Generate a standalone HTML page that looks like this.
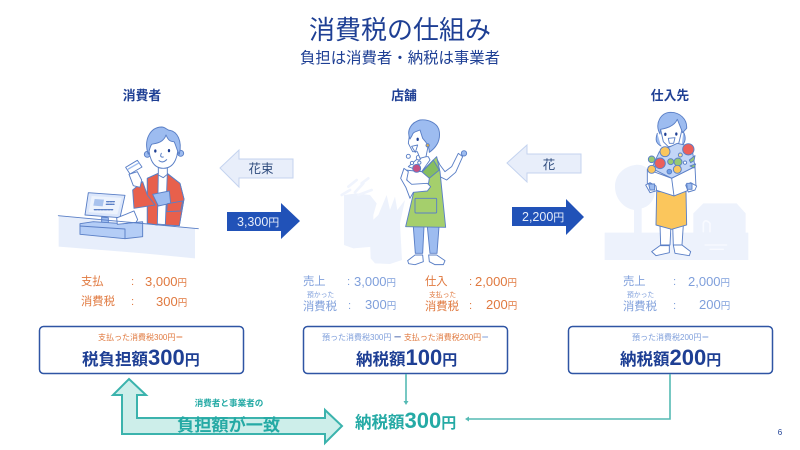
<!DOCTYPE html>
<html lang="ja"><head><meta charset="utf-8"><title>消費税の仕組み</title>
<style>
html,body{margin:0;padding:0;background:#fff;width:800px;height:450px;overflow:hidden}
svg{display:block}
text{font-family:"Liberation Sans","Noto Sans CJK JP",sans-serif}
.ill{filter:blur(.3px)}
.ill *{stroke-linejoin:round;stroke-linecap:round}
.s{stroke:#5a7fc6;stroke-width:2.8}
.w{fill:#fff}.h{fill:#9dbcf0}.r{fill:#e8604c}.g{fill:#a5cf6c}.y{fill:#fbc65c}
.bg{fill:#edf2fc;stroke:none}
</style></head><body>
<svg width="800" height="450" viewBox="0 0 800 450" xmlns="http://www.w3.org/2000/svg">
<rect width="800" height="450" fill="#fff"/>

<text x="400" y="39" text-anchor="middle" font-size="26" fill="#1e3f94">消費税の仕組み</text>
<text x="400" y="63" text-anchor="middle" font-size="15.4" fill="#1e3f94">負担は消費者・納税は事業者</text>
<text x="142" y="100" text-anchor="middle" font-size="12.8" font-weight="bold" fill="#1e3f94">消費者</text>
<text x="404" y="100" text-anchor="middle" font-size="12.8" font-weight="bold" fill="#1e3f94">店舗</text>
<text x="670" y="100" text-anchor="middle" font-size="12.8" font-weight="bold" fill="#1e3f94">仕入先</text>

<!-- consumer -->
<g class="ill" transform="translate(60,125) scale(.3333)">
<polygon class="bg" style="fill:#e7eefb" points="-4,272 405,310 405,400 250,385 -4,365"/>
<path class="s w" d="M262,160L295,145H322L360,175L372,222L358,302L262,295Z"/>
<path class="s r" d="M262,160L295,145L292,300L262,295ZM322,146L360,175L372,222L358,302L316,300Z"/>
<path class="s r" d="M248,170L218,195L222,250L285,240L262,210Z"/>
<path class="s w" d="M207,148L232,140L245,165L240,187L220,182Z"/>
<path class="s w" d="M197,127L232,106L246,126L210,147Z"/>
<path d="M205,132L238,113" stroke="#9dbcf0" stroke-width="4"/>
<path class="s h" d="M278,208L328,198L332,235L295,243Z"/>
<path class="s r" d="M322,236L368,228L362,258L320,260Z"/>
<path class="s w" d="M295,120V150L310,158L322,148V120Z"/>
<circle class="s h" cx="262" cy="88" r="9"/><circle class="s h" cx="362" cy="85" r="9"/>
<path class="s w" d="M268,50C263,90 275,130 310,130C345,130 358,90 352,50L320,30Z"/>
<path class="s h" d="M265,88C250,45 270,7 305,6C318,6 322,18 330,16C350,20 368,45 358,88C350,75 348,60 342,50C325,50 322,38 318,30C310,55 285,55 275,58C270,65 268,75 265,88Z"/>
<ellipse cx="286" cy="78" rx="3.5" ry="5" fill="#1e3f94"/><ellipse cx="327" cy="77" rx="3.5" ry="5" fill="#1e3f94"/>
<path d="M297,107Q308,116 320,104M304,85Q298,98 310,96" fill="none" stroke="#5a7fc6" stroke-width="3"/>
<path class="s" fill="#dce7fb" d="M85,203L195,211L180,278L75,270Z"/>
<path fill="#edf3fd" d="M95,213L185,219L172,268L86,261Z"/>
<path fill="#a9c3ee" d="M104,222L132,224L128,244L100,242Z"/>
<path d="M140,230H163M139,238H162M103,254H158" stroke="#5a7fc6" stroke-width="4" stroke-dasharray="7 3"/>
<path class="s h" d="M125,276L145,278V296H125Z"/>
<path class="s" fill="#b4cdf6" d="M60,296L100,290L190,296L248,290V335L195,341L60,328Z"/>
<path class="s" fill="none" d="M60,303L195,312V341"/>
<path class="s w" d="M170,279L222,258L233,284L228,292L172,298Z"/>
<path d="M-5,272L415,311" stroke="#5a7fc6" stroke-width="2.8" fill="none"/>
</g>

<!-- store -->
<g class="ill" transform="translate(340,115) scale(.3333)">
<path class="bg" d="M12,240L50,235L90,240L110,265L100,300V395L40,400L12,390Z"/>
<path d="M5,240L30,225M25,215L50,195M45,232L70,205M65,205L85,190M55,240L95,225" stroke="#f0f4fd" stroke-width="8" fill="none"/>
<path class="bg" d="M88,325L115,300L140,240L150,285L165,245L172,285L195,255L180,325L186,435L150,447L105,445L92,430Z"/>
<path class="s h" d="M220,335H252L248,415H226Z"/>
<path class="s h" d="M262,335H297L291,415H270Z"/>
<path class="s w" d="M203,437L225,420H248L250,440L225,449L206,446Z"/>
<path class="s w" d="M266,420H290L315,437L310,449H285L268,440Z"/>
<path class="s w" d="M290,130L300,150L315,170L335,155L355,115L368,125L347,172L320,195L300,185Z"/>
<circle class="s h" cx="372" cy="115" r="8"/>
<path class="s g" d="M240,175L290,125L300,170L317,337L197,335L225,215Z"/>
<rect class="s g" x="225" y="250" width="65" height="44" rx="3"/>
<path class="s" fill="#86bd60" d="M240,178L280,135L298,165L265,192Z"/>
<path class="s w" d="M240,125L265,125L270,135L245,170L205,155Z"/>
<path class="s w" d="M195,165L245,170L268,190L262,228L205,215Z"/>
<path class="s w" d="M192,160L182,190L198,218L210,250L220,232L262,228L272,215L262,205L215,208L200,195L205,170Z"/>
<circle class="s" cx="230" cy="160" r="12" fill="#c55184"/>
<g class="s w"><circle cx="205" cy="124" r="6"/><circle cx="236" cy="128" r="7"/><circle cx="216" cy="144" r="5"/><circle cx="238" cy="143" r="5"/></g>
<path class="s w" d="M210,48L250,42L264,95L258,125L240,130L232,110L218,110L205,85Z"/>
<path class="s h" d="M210,72C198,45 215,22 240,15C265,12 295,25 298,50C302,80 285,100 268,112C268,100 265,92 258,82L248,70L240,45C230,50 218,50 216,62Z"/>
<circle class="s" cx="263" cy="91" r="5" fill="#dfb04a"/>
<ellipse cx="233" cy="73" rx="3.5" ry="5" fill="#1e3f94"/>
<path class="s w" d="M215,94L233,90L226,112Z"/>
</g>

<!-- supplier -->
<g class="ill" transform="translate(600,110) scale(.3333)">
<path class="bg" d="M105,165C140,160 160,190 165,225C170,265 150,290 125,295V370H102V300C70,295 45,265 45,230C45,195 70,170 105,165Z"/>
<path class="bg" d="M280,310L310,280H410L437,310V370H280Z"/>
<rect class="bg" x="14" y="368" width="431" height="82"/>
<path d="M310,365V340Q315,325 330,340V365" fill="none" stroke="#f8faff" stroke-width="5"/>
<path d="M315,405H380M330,418H370" stroke="#f8faff" stroke-width="4"/>
<path class="s w" d="M180,345H213L210,405H182Z"/>
<path class="s w" d="M218,345H250L246,405H220Z"/>
<path class="s w" d="M155,425L180,407H208V428L168,437Z"/>
<path class="s w" d="M220,405H246L272,425L268,437L225,430Z"/>
<path class="s y" d="M170,245H258L260,345L215,358L168,345Z"/>
<path class="s h" d="M172,70C165,90 168,100 183,108M250,65C258,80 258,95 245,108" fill="none"/>
<path class="s w" d="M180,50L190,95L205,110L235,105L247,55L232,25Z"/>
<path class="s h" d="M180,72C163,40 182,8 212,7C240,7 262,28 260,55L248,68L232,28C222,50 198,55 182,58Z"/>
<ellipse cx="196" cy="73" rx="3.5" ry="5" fill="#1e3f94"/><ellipse cx="229" cy="72" rx="3.5" ry="5" fill="#1e3f94"/>
<path class="s w" d="M205,85L225,83L221,100L208,100Z"/>
<path class="s" fill="#c3d6f7" d="M155,175L215,205L285,170L275,110L232,100L178,125Z"/>
<path class="s w" d="M142,178L215,205L285,170L288,232L222,258L142,232Z"/>
<path class="s" fill="none" d="M215,205L222,258"/>
<path class="s w" d="M137,225L150,218L168,228L170,242L150,248Z"/>
<path class="s w" d="M257,225L272,218L290,228L285,240L265,246Z"/>
<path class="s h" d="M146,222H164V240H150ZM260,220H276V238H262Z"/>
<g class="s">
<circle cx="265" cy="118" r="17" fill="#ec5f5a"/>
<circle class="y" cx="195" cy="125" r="15"/>
<circle cx="180" cy="160" r="16" fill="#ec5f5a"/>
<circle cx="155" cy="148" r="10" fill="#96c872"/>
<circle class="y" cx="155" cy="178" r="12"/>
<circle cx="212" cy="155" r="9" fill="#96c872"/>
<circle cx="234" cy="156" r="12" fill="#96c872"/>
<circle class="y" cx="232" cy="178" r="12"/>
<circle cx="241" cy="135" r="6" fill="#fbe08c"/>
<path style="fill:#96c872" d="M268,150L285,137L282,152L272,158Z"/>
<circle cx="208" cy="185" r="7" fill="#6d9de8"/>
<circle cx="255" cy="158" r="5" fill="#fff"/>
<path style="fill:#96c872" d="M270,168L287,162L282,174Z"/>
</g>
</g>

<!-- horizontal arrows -->
<polygon points="220,168 239,150 239,159 293,159 293,178 239,178 239,187" fill="#e8eefa" stroke="#c4d3ef"/>
<text x="261" y="173" text-anchor="middle" font-size="12.5" fill="#2d4a7c">花束</text>
<polygon points="227,212 281,212 281,203 300,221 281,239 281,231 227,231" fill="#2152b8"/>
<text x="237" y="226" font-size="12.5" fill="#e8eefa">3,300<tspan font-size="11">円</tspan></text>
<polygon points="507,163 527,145 527,154 581,154 581,173 527,173 527,182" fill="#e8eefa" stroke="#c4d3ef"/>
<text x="549" y="169" text-anchor="middle" font-size="12.5" fill="#2d4a7c">花</text>
<polygon points="512,207 566,207 566,199 584,217 566,235 566,226 512,226" fill="#2152b8"/>
<text x="522" y="221" font-size="12.5" fill="#e8eefa">2,200<tspan font-size="11">円</tspan></text>

<!-- consumer numbers -->
<g style="fill:#e0793f" font-size="11.3">
<text x="81" y="285">支払</text><text x="81" y="305">消費税</text>
<text x="131" y="285">:</text><text x="131" y="305">:</text>
<text x="145" y="286" font-size="13">3,000<tspan font-size="9.5">円</tspan></text>
<text x="156" y="306" font-size="13">300<tspan font-size="9.5">円</tspan></text>
</g>
<!-- store numbers -->
<g style="fill:#7f9fdb" font-size="11.3">
<text x="303" y="285">売上</text><text x="303" y="310">消費税</text>
<text x="307" y="297" font-size="6.8">預かった</text>
<text x="347" y="285">:</text><text x="348" y="309">:</text>
<text x="354" y="286" font-size="13">3,000<tspan font-size="9.5">円</tspan></text>
<text x="365" y="309" font-size="13">300<tspan font-size="9.5">円</tspan></text>
</g>
<g style="fill:#e0793f" font-size="11.3">
<text x="425" y="285">仕入</text><text x="425" y="310">消費税</text>
<text x="429" y="297" font-size="6.8">支払った</text>
<text x="469" y="285">:</text><text x="469" y="309">:</text>
<text x="475" y="286" font-size="13">2,000<tspan font-size="9.5">円</tspan></text>
<text x="486" y="309" font-size="13">200<tspan font-size="9.5">円</tspan></text>
</g>
<!-- supplier numbers -->
<g style="fill:#7f9fdb" font-size="11.3">
<text x="623" y="285">売上</text><text x="623" y="310">消費税</text>
<text x="627" y="297" font-size="6.8">預かった</text>
<text x="673" y="285">:</text><text x="673" y="309">:</text>
<text x="688" y="286" font-size="13">2,000<tspan font-size="9.5">円</tspan></text>
<text x="699" y="309" font-size="13">200<tspan font-size="9.5">円</tspan></text>
</g>

<!-- boxes -->
<rect x="39.5" y="326.5" width="204" height="47" rx="4" fill="#fff" stroke="#2f55a4" stroke-width="1.5"/>
<rect x="303.5" y="326.5" width="204" height="47" rx="4" fill="#fff" stroke="#2f55a4" stroke-width="1.5"/>
<rect x="568.5" y="326.5" width="204" height="47" rx="4" fill="#fff" stroke="#2f55a4" stroke-width="1.5"/>

<text x="98" y="340" font-size="8" style="fill:#e0793f">支払った消費税300円＝</text>
<text x="82" y="365" font-size="16.5" font-weight="bold" style="fill:#1e3f94">税負担額<tspan font-size="22">300</tspan><tspan font-size="15">円</tspan></text>

<text x="322" y="340" font-size="8" style="fill:#7f9fdb">預った消費税300円<tspan style="fill:#1e3f94"> ー </tspan><tspan style="fill:#e0793f">支払った消費税200円</tspan>＝</text>
<text x="356" y="365" font-size="16.5" font-weight="bold" style="fill:#1e3f94">納税額<tspan font-size="22">100</tspan><tspan font-size="15">円</tspan></text>

<text x="632" y="340" font-size="8" style="fill:#7f9fdb">預った消費税200円＝</text>
<text x="620" y="365" font-size="16.5" font-weight="bold" style="fill:#1e3f94">納税額<tspan font-size="22">200</tspan><tspan font-size="15">円</tspan></text>

<!-- connectors -->
<path d="M406,374V402" fill="none" stroke="#55bab4" stroke-width="1.6"/>
<polygon points="403.5,401 408.5,401 406,405" fill="#55bab4"/>
<path d="M670,374V419H468" fill="none" stroke="#55bab4" stroke-width="1.6"/>
<polygon points="469,416.5 469,421.5 465,419" fill="#55bab4"/>

<!-- teal arrow -->
<polygon points="129,379 146,395 137,395 137,418 325,418 325,410 342,426 325,443 325,434 122,434 122,395 113,395" fill="#cdeeea" stroke="#3bb3ad" stroke-width="2"/>
<text x="229" y="406" text-anchor="middle" font-size="8.6" font-weight="bold" style="fill:#25aaa5">消費者と事業者の</text>
<text x="177" y="431" font-size="17.2" font-weight="bold" style="fill:#25aaa5">負担額が一致</text>
<text x="355" y="428" font-size="16.5" font-weight="bold" style="fill:#25aaa5">納税額<tspan font-size="22">300</tspan><tspan font-size="15">円</tspan></text>

<text x="780" y="435" text-anchor="middle" font-size="8" fill="#1e3f94">6</text>
</svg>
</body></html>
